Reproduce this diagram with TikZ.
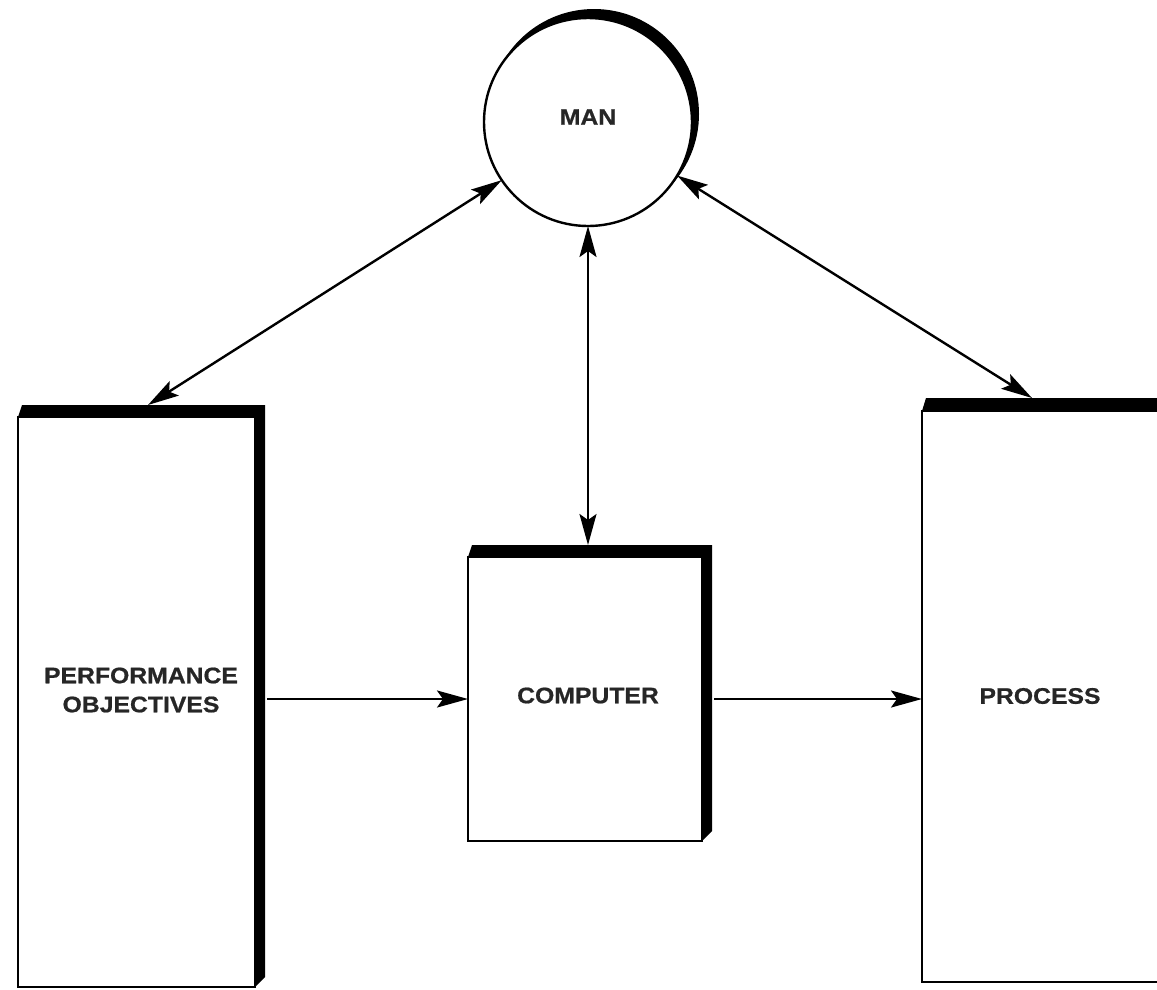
\documentclass[tikz,border=0pt]{standalone}
\usepackage{fontspec}
\newfontfamily\lblfont[FakeStretch=1.1,FakeBold=0.8]{Liberation Sans Bold}
\usetikzlibrary{arrows.meta,calc,backgrounds}
\begin{document}
\begin{tikzpicture}[x=1pt,y=-1pt,
  lbl/.style={font=\lblfont\fontsize{22.5}{29}\selectfont, text=black!85, align=center, inner sep=0pt},
  block/.style={draw=black, line width=2.4pt, fill=white, inner sep=0pt, outer sep=0pt},
  tip/.tip={Stealth[length=31pt,width=17pt,inset=6pt]},
  arr/.style={line width=2.4pt, -tip},
  darr/.style={line width=2.4pt, tip-tip}]
\useasboundingbox (0,0) rectangle (1157,989);

% boxes
\node[block, minimum width=237pt, minimum height=570pt] (perf) at (136.5,702) {};
\node[block, minimum width=234pt, minimum height=284pt] (comp) at (585,699) {};
\node[block, minimum width=236pt, minimum height=571pt] (proc) at (1040,696.5) {};
\node[block, circle, minimum size=208pt] (man) at (588,122) {};

% labels
\node[lbl] (mantxt)  at (588,117)   {MAN};
\node[lbl] (perftxt) at (141,690)   {PERFORMANCE\\OBJECTIVES};
\node[lbl] (comptxt) at (588,695.5) {COMPUTER};
\node[lbl] (proctxt) at (1040,696)  {PROCESS};

% heavy drop shadows along the top and right sides
\begin{scope}[on background layer]
  \fill[white] (0,0) rectangle (1157,989);
  \foreach \b/\t/\r in {perf/12/10, comp/12/10, proc/13/10} {
    \fill[black] (\b.north west) -- ++(4,-\t)
      -- ($(\b.north east)+(\r,-\t)$) -- ($(\b.south east)+(\r,-\r)$)
      -- (\b.south east) -- (\b.north east) -- cycle;
  }
  \fill[black] ($(man.center)+(6,-8)$) circle[radius=105pt];
\end{scope}

% connectors
\draw[darr] (man.214) -- ($(perf.north west)+(130,-12)$);
\draw[darr] (man.329) -- ($(proc.north west)+(110,-13)$);
\draw[darr] (man.south) -- ($(man.south |- comp.north)+(0,-12)$);
\draw[arr] ($(perf.east |- comp.west)+(12,0)$) -- (comp.west);
\draw[arr] ($(comp.east)+(12,0)$) -- (proc.west |- comp.east);
\end{tikzpicture}
\end{document}
